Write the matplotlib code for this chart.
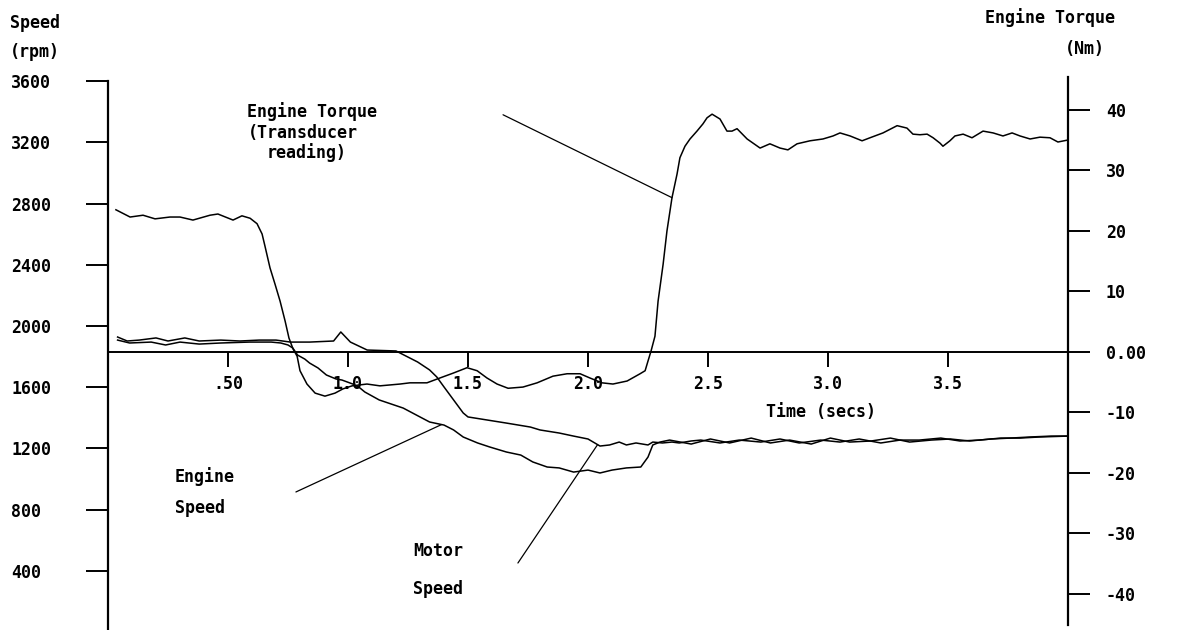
import numpy as np
import matplotlib
matplotlib.use("Agg")
import matplotlib.pyplot as plt

# ---------------- data ----------------
torque_t = [0.033, 0.092, 0.146, 0.196, 0.258, 0.300, 0.354, 0.425, 0.458, 0.521,
            0.558, 0.592, 0.621, 0.642, 0.654, 0.675, 0.696, 0.717, 0.738, 0.754,
            0.771, 0.788, 0.800, 0.829, 0.863, 0.904, 0.946, 0.979, 1.017, 1.079,
            1.133, 1.217, 1.258, 1.329, 1.383, 1.438, 1.496, 1.538, 1.579, 1.621,
            1.667, 1.729, 1.788, 1.854, 1.913, 1.967, 2.008, 2.058, 2.104, 2.163,
            2.217, 2.238, 2.250, 2.263, 2.279, 2.292, 2.313, 2.329, 2.350, 2.371,
            2.383, 2.404, 2.425, 2.454, 2.479, 2.496, 2.517, 2.550, 2.579, 2.600,
            2.621, 2.663, 2.717, 2.758, 2.800, 2.833, 2.871, 2.925, 2.979, 3.021,
            3.050, 3.092, 3.142, 3.175, 3.229, 3.288, 3.329, 3.354, 3.383, 3.413,
            3.438, 3.467, 3.479, 3.508, 3.529, 3.563, 3.600, 3.646, 3.688, 3.729,
            3.767, 3.800, 3.842, 3.883, 3.925, 3.958, 3.996]
torque_nm = [23.5, 22.3, 22.6, 22.0, 22.3, 22.3, 21.8, 22.6, 22.8, 21.8,
             22.5, 22.1, 21.2, 19.5, 17.5, 13.9, 11.2, 8.4, 5.1, 2.3,
             0.5, -0.7, -3.1, -5.3, -6.8, -7.3, -6.8, -6.1, -5.6, -5.3,
             -5.6, -5.3, -5.1, -5.1, -4.3, -3.5, -2.6, -3.1, -4.3, -5.3,
             -6.0, -5.8, -5.1, -4.0, -3.6, -3.6, -4.3, -5.1, -5.3, -4.8,
             -3.6, -3.1, -1.5, 0.2, 2.6, 8.4, 14.5, 20.0, 25.5, 29.4,
             32.1, 34.0, 35.2, 36.5, 37.7, 38.7, 39.3, 38.5, 36.5, 36.5,
             36.9, 35.2, 33.7, 34.4, 33.7, 33.4, 34.4, 34.9, 35.2, 35.7,
             36.2, 35.7, 34.9, 35.4, 36.2, 37.4, 37.0, 36.0, 35.9, 36.0,
             35.4, 34.5, 34.0, 34.9, 35.7, 36.0, 35.4, 36.5, 36.2, 35.7,
             36.2, 35.7, 35.2, 35.5, 35.4, 34.7, 35.0]

motor_t = [0.04, 0.08, 0.13, 0.20, 0.25, 0.32, 0.38, 0.47, 0.55, 0.63,
           0.70, 0.76, 0.84, 0.94, 0.97, 1.01, 1.08, 1.20, 1.25, 1.29,
           1.34, 1.37, 1.40, 1.44, 1.48, 1.50, 1.58, 1.66, 1.76, 1.80,
           1.88, 1.94, 2.00, 2.05, 2.09, 2.13, 2.16, 2.20, 2.25, 2.27,
           2.31, 2.35, 2.38, 2.43, 2.47, 2.55, 2.63, 2.72, 2.80, 2.88,
           2.97, 3.05, 3.13, 3.22, 3.30, 3.38, 3.47, 3.55, 3.63, 3.72,
           3.80, 3.88, 4.00]
motor_rpm = [1928, 1902, 1908, 1922, 1902, 1922, 1902, 1908, 1902, 1908,
             1908, 1895, 1895, 1902, 1961, 1895, 1843, 1837, 1797, 1765,
             1713, 1667, 1602, 1517, 1432, 1406, 1386, 1366, 1340, 1321,
             1301, 1281, 1262, 1216, 1223, 1242, 1223, 1236, 1223, 1242,
             1236, 1242, 1236, 1249, 1255, 1236, 1255, 1242, 1262, 1236,
             1255, 1242, 1262, 1236, 1255, 1255, 1268, 1249, 1255, 1268,
             1268, 1275, 1281]

engine_t = [0.04, 0.09, 0.18, 0.24, 0.30, 0.38, 0.47, 0.59, 0.68, 0.72,
            0.75, 0.77, 0.79, 0.82, 0.84, 0.875, 0.91, 0.95, 0.975, 1.02,
            1.05, 1.07, 1.13, 1.23, 1.30, 1.34, 1.40, 1.44, 1.48, 1.54,
            1.59, 1.66, 1.72, 1.77, 1.83, 1.88, 1.94, 2.00, 2.05, 2.10,
            2.16, 2.22, 2.25, 2.27, 2.30, 2.34, 2.43, 2.51, 2.59, 2.68,
            2.76, 2.84, 2.93, 3.01, 3.09, 3.18, 3.26, 3.34, 3.43, 3.51,
            3.59, 3.68, 3.76, 3.84, 3.93, 4.00]
engine_rpm = [1908, 1889, 1895, 1876, 1895, 1882, 1889, 1895, 1895, 1889,
              1876, 1856, 1810, 1784, 1758, 1726, 1680, 1654, 1647, 1621,
              1595, 1569, 1517, 1464, 1406, 1373, 1353, 1321, 1275, 1236,
              1210, 1177, 1157, 1112, 1079, 1073, 1046, 1059, 1040, 1059,
              1073, 1079, 1144, 1223, 1242, 1255, 1229, 1262, 1236, 1268,
              1236, 1255, 1229, 1268, 1242, 1249, 1268, 1242, 1255, 1262,
              1249, 1262, 1268, 1275, 1281, 1281]

speed_ticks = [3600, 3200, 2800, 2400, 2000, 1600, 1200, 800, 400]
speed_tick_labels = ["3600", "3200", "2800", "2400", "2000", "1600", "1200", "800", "400"]
torque_ticks = [40, 30, 20, 10, 0, -10, -20, -30, -40]
torque_tick_labels = ["40", "30", "20", "10", "0.00", "-10", "-20", "-30", "-40"]
time_ticks = [0.5, 1.0, 1.5, 2.0, 2.5, 3.0, 3.5]
time_tick_labels = [".50", "1.0", "1.5", "2.0", "2.5", "3.0", "3.5"]

# ---------------- figure ----------------
plt.rcParams['font.family'] = ['DejaVu Sans Mono', 'DejaVu Sans']
plt.rcParams['font.weight'] = 'bold'
FS = 12

W, H = 1187, 630
fig = plt.figure(figsize=(W / 100, H / 100), dpi=100)
fig.patch.set_facecolor('white')

def fx(px):
    return px / W

def fy(py):
    return 1 - py / H

ax = fig.add_axes([fx(108), 0, 960 / W, 560 / H])
ax.patch.set_alpha(0)
ax2 = ax.twinx()

ax.set_xlim(0, 4)
ax.set_ylim(14.5, 3672)
ax2.set_ylim(-45.95, 46.6)

lw = 1.1
ax.plot(motor_t, motor_rpm, color='black', lw=lw)
ax.plot(engine_t, engine_rpm, color='black', lw=lw)
ax2.plot(torque_t, torque_nm, color='black', lw=lw)

# spines
for s in ['top', 'right', 'bottom']:
    ax.spines[s].set_visible(False)
ax.spines['left'].set_bounds(14.5, 3600)
ax.spines['left'].set_linewidth(1.6)
ax.xaxis.set_visible(False)

for s in ['top', 'left']:
    ax2.spines[s].set_visible(False)
ax2.spines['right'].set_bounds(-45.1, 45.5)
ax2.spines['right'].set_linewidth(1.6)
ax2.spines['bottom'].set_position(('data', 0))
ax2.spines['bottom'].set_linewidth(1.4)
ax2.xaxis.set_visible(True)
ax2.xaxis.set_ticks_position('bottom')
ax2.set_xticks(time_ticks)
ax2.set_xticklabels(time_tick_labels)
ax2.tick_params(axis='x', direction='out', length=10.8, width=1.4, pad=6, labelsize=FS)

ax.set_yticks(speed_ticks)
ax.set_yticklabels(speed_tick_labels, ha='left')
ax.tick_params(axis='y', direction='out', length=15.8, width=1.4, pad=54, labelsize=FS)

ax2.set_yticks(torque_ticks)
ax2.set_yticklabels(torque_tick_labels)
ax2.tick_params(axis='y', direction='out', length=15.8, width=1.4, pad=11.5, labelsize=FS)

# axis titles
fig.text(fx(10), fy(23), "Speed", ha='left', va='center', fontsize=FS)
fig.text(fx(10), fy(52), "(rpm)", ha='left', va='center', fontsize=FS)
fig.text(fx(1050), fy(18), "Engine Torque", ha='center', va='center', fontsize=FS)
fig.text(fx(1085), fy(49), "(Nm)", ha='center', va='center', fontsize=FS)
fig.text(fx(821), fy(412), "Time (secs)", ha='center', va='center', fontsize=FS)

# annotations
arrow = dict(arrowstyle='-', lw=0.9, color='black', shrinkA=0, shrinkB=0)

tq_t = 2.35
ax2.annotate("", xy=(tq_t, np.interp(tq_t, torque_t, torque_nm)),
             xytext=(1.646, 39.2), arrowprops=arrow)
fig.text(fx(247), fy(112), "Engine Torque", ha='left', va='center', fontsize=FS)
fig.text(fx(248), fy(133), "(Transducer", ha='left', va='center', fontsize=FS)
fig.text(fx(267), fy(153), "reading)", ha='left', va='center', fontsize=FS)

es_t = 1.39
ax.annotate("", xy=(es_t, np.interp(es_t, engine_t, engine_rpm)),
            xytext=(0.783, 916), arrowprops=arrow)
fig.text(fx(175), fy(492), "Engine\nSpeed", ha='left', va='center',
         fontsize=FS, linespacing=1.9)

ms_t = 2.04
ax.annotate("", xy=(ms_t, np.interp(ms_t, motor_t, motor_rpm)),
            xytext=(1.708, 452), arrowprops=arrow)
fig.text(fx(413), fy(570), "Motor\nSpeed", ha='left', va='center',
         fontsize=FS, linespacing=2.5)

fig.savefig("out.png", dpi=100, facecolor='white')
